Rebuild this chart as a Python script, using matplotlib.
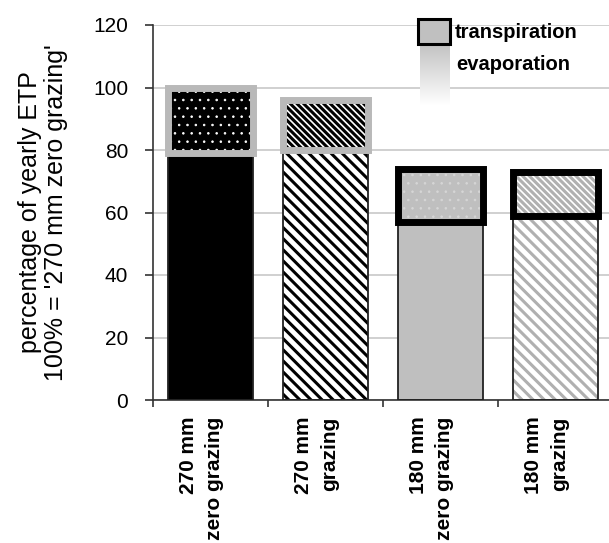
import numpy as np
import matplotlib
matplotlib.use('Agg')
import matplotlib.pyplot as plt
from matplotlib.patches import Rectangle

categories = ['270 mm\nzero grazing', '270 mm\ngrazing', '180 mm\nzero grazing', '180 mm\ngrazing']
evaporation = [79, 80, 57, 59]
transpiration = [21, 16, 17, 14]

# per-bar styles (fill, hatch, hatch colour, outline)
evap_style = [('black', '', 'black'), ('white', '\\\\\\', 'black'),
              ('#bfbfbf', '', '#bfbfbf'), ('white', '\\\\\\', '#b0b0b0')]
trans_style = [('black', '..', 'white', '#b9b9b9'), ('white', '\\\\\\\\\\', 'black', '#b9b9b9'),
               ('#bfbfbf', '..', '#d6d6d6', 'black'), ('white', '\\\\\\\\\\', '#b0b0b0', 'black')]

plt.rcParams['font.family'] = ['Liberation Sans', 'DejaVu Sans']
plt.rcParams['hatch.linewidth'] = 2.2

W, H = 609, 543
fig = plt.figure(figsize=(W / 100, H / 100), dpi=100)
ax = fig.add_axes([153 / W, (H - 400) / H, 460 / W, 375 / H])

x = np.arange(len(categories))
bw = 0.74

for i in range(len(categories)):
    fc, hatch, hc = evap_style[i]
    ax.bar(x[i], evaporation[i], bw, color=fc, edgecolor=hc, hatch=hatch, linewidth=0, zorder=2)
    ax.bar(x[i], evaporation[i], bw, fill=False, edgecolor='#222222', linewidth=1.3, zorder=3)
for i in range(len(categories)):
    fc, hatch, hc, ec = trans_style[i]
    hlw = 0.6 if '.' in hatch else 2.2
    with plt.rc_context({'hatch.linewidth': hlw}):
        bars = ax.bar(x[i], transpiration[i], bw, bottom=evaporation[i], color=fc, edgecolor=hc,
                      hatch=hatch, linewidth=0, zorder=4)
    for b in bars:
        if hasattr(b, 'set_hatch_linewidth'):
            b.set_hatch_linewidth(hlw)
    ax.bar(x[i], transpiration[i], bw, bottom=evaporation[i], fill=False, edgecolor=ec,
           linewidth=5, zorder=5)

ax.set_xlim(-0.5, 3.5)
ax.set_ylim(0, 120)
ax.set_yticks(np.arange(0, 121, 20))
ax.yaxis.grid(True, color='#c8c8c8', linewidth=1.2, zorder=0)
ax.set_axisbelow(True)
ax.tick_params(axis='y', length=6, width=1.2, color='#333333', pad=12, labelsize=15)

ax.set_xticks(x - 0.08)
ax.set_xticklabels(categories, rotation=90, fontsize=15, fontweight='bold',
                   multialignment='right', linespacing=1.5)
ax.set_xticks(np.arange(-0.5, 3.6, 1), minor=True)
ax.tick_params(axis='x', which='major', length=0, pad=12)
ax.tick_params(axis='x', which='minor', length=5, width=1.2, color='#333333')

for s in ['top', 'right']:
    ax.spines[s].set_visible(False)
for s in ['left', 'bottom']:
    ax.spines[s].set_color('#333333')
    ax.spines[s].set_linewidth(1.2)

ax.set_ylabel("percentage of yearly ETP\n100% = '270 mm zero grazing'", fontsize=18,
              linespacing=1.1)
ax.yaxis.set_label_coords(-(153 - 68) / 460, 0.5)

# legend drawn by hand: transpiration box and fading evaporation swatch
def fx(px):
    return px / W

def fy(py):
    return 1 - py / H

gax = fig.add_axes([fx(420), fy(106), fx(450) - fx(420), fy(44) - fy(106)])
grad = np.linspace(0.76, 1.0, 100).reshape(-1, 1)
gax.imshow(grad, cmap='gray', vmin=0, vmax=1, aspect='auto', interpolation='bilinear')
gax.axis('off')

fig.patches.append(Rectangle((fx(418), fy(44)), fx(450) - fx(418), fy(19) - fy(44),
                             transform=fig.transFigure, facecolor='#c0c0c0',
                             edgecolor='black', linewidth=2.2, zorder=10))
fig.text(fx(455), fy(33), 'transpiration', fontsize=14.5, fontweight='bold',
         va='center', ha='left')
fig.text(fx(456), fy(64), 'evaporation', fontsize=14.5, fontweight='bold',
         va='center', ha='left')

fig.savefig('out.png', dpi=100)
